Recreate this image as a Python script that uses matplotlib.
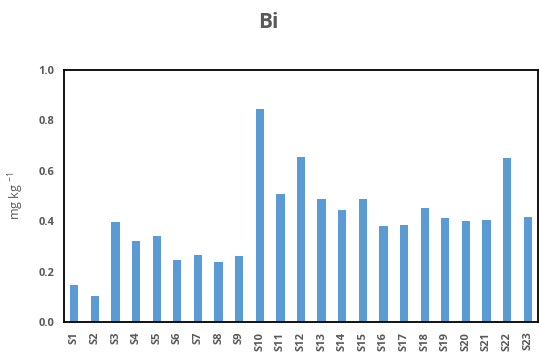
import matplotlib
matplotlib.use("Agg")
import matplotlib.pyplot as plt
import numpy as np

categories = [f"S{i}" for i in range(1, 24)]
values = [0.146, 0.104, 0.396, 0.323, 0.340, 0.245, 0.266, 0.237, 0.263, 0.845,
          0.507, 0.655, 0.488, 0.443, 0.487, 0.382, 0.385, 0.451, 0.413, 0.400,
          0.403, 0.650, 0.417]
yticks = [0.0, 0.2, 0.4, 0.6, 0.8, 1.0]

plt.rcParams['font.family'] = ['Open Sans', 'DejaVu Sans']
plt.rcParams['mathtext.fontset'] = 'custom'
plt.rcParams['mathtext.rm'] = 'Open Sans'
plt.rcParams['mathtext.it'] = 'Open Sans'
gray = '#595959'

fig = plt.figure(figsize=(5.39, 3.54), dpi=100)
ax = fig.add_axes([64/539, 1-322/354, (538-64)/539, (322-70)/354])
x = np.arange(len(categories))
ax.bar(x, values, width=0.4, color='#5B9BD5', zorder=2)
ax.set_xlim(-0.5, len(categories)-0.5)
ax.set_ylim(0, 1.0)
ax.set_yticks(yticks)
ax.set_yticklabels([f"{t:.1f}" for t in yticks], fontsize=8, fontweight='bold', color=gray)
ax.set_xticks(x)
ax.set_xticklabels(categories, rotation=90, fontsize=8, fontweight='bold', color=gray)
ax.tick_params(length=0, pad=7)
for s in ax.spines.values():
    s.set_color('black')
    s.set_linewidth(1.3)
ax.set_ylabel('mg kg $^{\\mathregular{-1}}$', fontsize=9, color=gray, labelpad=9)
fig.text(268/539, 1-22/354, 'Bi', ha='center', va='center', fontsize=15, fontweight='bold', color=gray)
fig.savefig('out.png', dpi=100)
